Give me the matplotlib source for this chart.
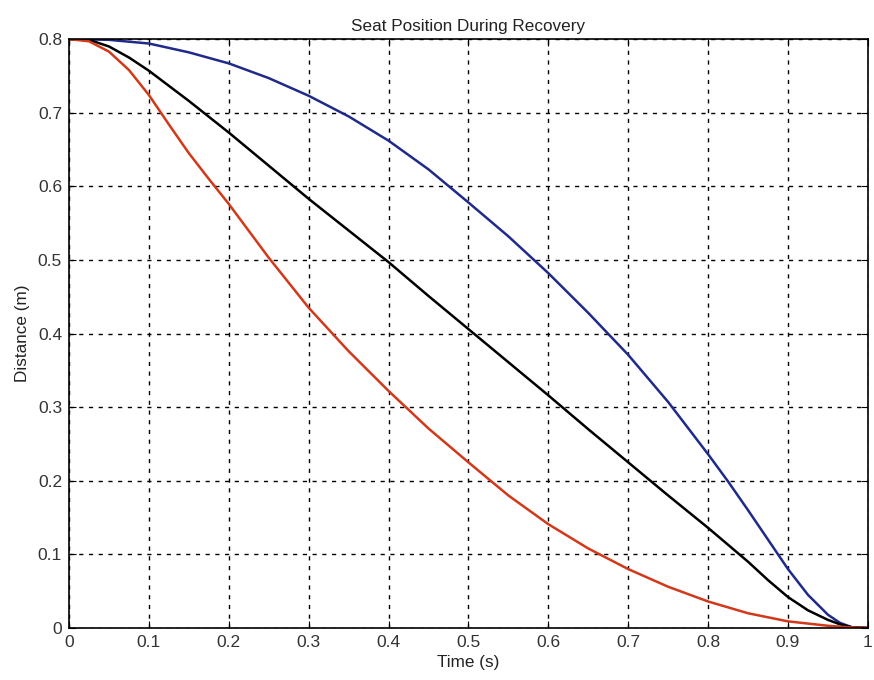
import numpy as np
import matplotlib.pyplot as plt

plt.rcParams['font.family'] = ['Liberation Sans', 'DejaVu Sans']

# Temps (s) et positions
t_blue = [0, 0.05, 0.1, 0.15, 0.2, 0.25, 0.3, 0.35, 0.4, 0.45, 0.5, 0.55,
          0.6, 0.65, 0.7, 0.75, 0.8, 0.825, 0.85, 0.875, 0.9, 0.925, 0.95,
          0.965, 0.98, 1.0]
d_blue = [0.8, 0.799, 0.794, 0.782, 0.767, 0.747, 0.723, 0.695, 0.662, 0.623,
          0.578, 0.532, 0.482, 0.428, 0.371, 0.307, 0.236, 0.199, 0.16, 0.12,
          0.08, 0.045, 0.018, 0.007, 0.001, 0.0]

t_black = [0, 0.025, 0.05, 0.075, 0.1, 0.15, 0.2, 0.25, 0.3, 0.35, 0.4, 0.45,
           0.5, 0.55, 0.6, 0.65, 0.7, 0.75, 0.8, 0.85, 0.875, 0.9, 0.925,
           0.95, 0.965, 0.98, 1.0]
d_black = [0.8, 0.799, 0.79, 0.775, 0.757, 0.716, 0.673, 0.628, 0.583, 0.54,
           0.497, 0.451, 0.406, 0.361, 0.316, 0.27, 0.225, 0.18, 0.136, 0.09,
           0.065, 0.042, 0.024, 0.011, 0.005, 0.001, 0.0]

t_red = [0, 0.025, 0.05, 0.075, 0.1, 0.125, 0.15, 0.175, 0.2, 0.25, 0.3, 0.35,
         0.4, 0.45, 0.5, 0.55, 0.6, 0.65, 0.7, 0.75, 0.8, 0.85, 0.9, 0.95,
         0.975, 1.0]
d_red = [0.8, 0.797, 0.783, 0.758, 0.724, 0.684, 0.645, 0.61, 0.576, 0.503,
         0.435, 0.376, 0.322, 0.271, 0.225, 0.18, 0.141, 0.108, 0.08, 0.056,
         0.036, 0.02, 0.009, 0.003, 0.001, 0.0]

x_ticks = np.round(np.arange(0, 1.01, 0.1), 1)
y_ticks = np.round(np.arange(0, 0.81, 0.1), 1)

fig = plt.figure(figsize=(8.74, 6.8), dpi=100)
ax = fig.add_axes([0.079, 0.0765, 0.914, 0.866])

ax.plot(t_blue, d_blue, color="#1f2a8a", linewidth=1.8)
ax.plot(t_black, d_black, color="black", linewidth=1.8)
ax.plot(t_red, d_red, color="#d2381a", linewidth=1.8)

ax.set_xlim(0, 1)
ax.set_ylim(0, 0.8)
ax.set_xticks(x_ticks)
ax.set_xticklabels([f"{v:g}" for v in x_ticks])
ax.set_yticks(y_ticks)
ax.set_yticklabels([f"{v:g}" for v in y_ticks])
ax.grid(True, color="black", linestyle=(0, (3, 4)), linewidth=1.0)
ax.tick_params(direction="in", length=5, labelsize=12.5, top=True, right=True,
               labelcolor="#333333", pad=5)
for s in ax.spines.values():
    s.set_linewidth(1.2)

ax.set_title("Seat Position During Recovery", fontsize=12.3, color="#222222")
ax.set_xlabel("Time (s)", fontsize=12.3, labelpad=4, color="#222222")
ax.set_ylabel("Distance (m)", fontsize=12.3, labelpad=6, color="#222222")

plt.savefig("out.png", dpi=100)
